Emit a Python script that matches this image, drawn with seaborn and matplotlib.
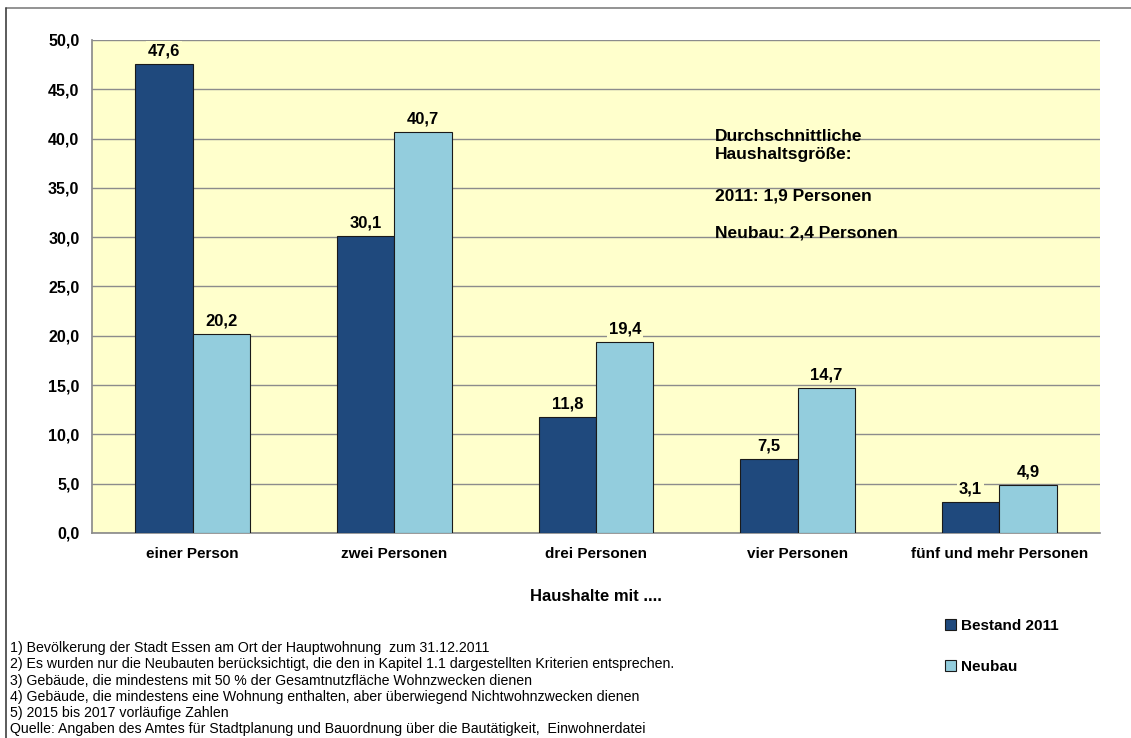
"""Haushaltsgröße: Bestand 2011 vs. Neubau (Balkendiagramm)."""

import matplotlib

matplotlib.use("Agg")
import matplotlib.pyplot as plt
import matplotlib.ticker as mticker
import pandas as pd
import seaborn as sns
from matplotlib.lines import Line2D
from matplotlib.patches import Patch

categories = ["einer Person", "zwei Personen", "drei Personen", "vier Personen", "fünf und mehr Personen"]
bestand_2011 = [47.6, 30.1, 11.8, 7.5, 3.1]
neubau = [20.2, 40.7, 19.4, 14.7, 4.9]
series_names = ["Bestand 2011", "Neubau"]
y_ticks = [0, 5, 10, 15, 20, 25, 30, 35, 40, 45, 50]

footnotes = [
    "1) Bevölkerung der Stadt Essen am Ort der Hauptwohnung  zum 31.12.2011",
    "2) Es wurden nur die Neubauten berücksichtigt, die den in Kapitel 1.1 dargestellten Kriterien entsprechen.",
    "3) Gebäude, die mindestens mit 50 % der Gesamtnutzfläche Wohnzwecken dienen",
    "4) Gebäude, die mindestens eine Wohnung enthalten, aber überwiegend Nichtwohnzwecken dienen",
    "5) 2015 bis 2017 vorläufige Zahlen",
    "Quelle: Angaben des Amtes für Stadtplanung und Bauordnung über die Bautätigkeit,  Einwohnerdatei",
]

DARK = "#1F497D"
LIGHT = "#93CDDD"
BG = "#FFFFCC"

sns.set_theme(style="white")
plt.rcParams["font.family"] = ["Liberation Sans", "DejaVu Sans"]
plt.rcParams["text.color"] = "black"
plt.rcParams["xtick.color"] = "black"
plt.rcParams["ytick.color"] = "black"
plt.rcParams["axes.labelcolor"] = "black"

df = pd.DataFrame({
    "Haushalt": categories * 2,
    "Anteil": bestand_2011 + neubau,
    "Serie": [series_names[0]] * 5 + [series_names[1]] * 5,
})

fig = plt.figure(figsize=(11.31, 7.38), dpi=100)
ax = fig.add_axes([0.0813, 0.2778, 0.8913, 0.668])
ax.set_facecolor(BG)

sns.barplot(
    data=df, x="Haushalt", y="Anteil", hue="Serie",
    palette=[DARK, LIGHT], saturation=1, width=0.57,
    edgecolor="#1a1a1a", linewidth=0.8,
    legend=False, ax=ax, zorder=3,
)

for container in ax.containers:
    ax.bar_label(
        container, labels=[f"{v:.1f}".replace(".", ",") for v in container.datavalues],
        padding=4, fontsize=12, fontweight="bold", color="black",
        bbox=dict(facecolor=BG, edgecolor="none", pad=1.5),
    )

ax.set_ylim(0, 50)
ax.set_xlim(-0.5, 4.5)
ax.set_yticks(y_ticks)
ax.yaxis.set_major_formatter(mticker.FuncFormatter(lambda v, _: f"{v:.1f}".replace(".", ",")))
ax.yaxis.grid(True, color="#8C8C8C", linewidth=1.0, zorder=0)
ax.set_axisbelow(True)
for side in ["top", "right"]:
    ax.spines[side].set_visible(False)
ax.spines["left"].set_color("#8C8C8C")
ax.spines["bottom"].set_color("#8C8C8C")

# Trennstriche zwischen den Kategorien
ax.set_xticks(range(len(categories)))
ax.set_xticklabels(categories, fontsize=11, fontweight="bold")
ax.tick_params(axis="x", length=0, pad=10)
ax.set_xticks([i - 0.5 for i in range(len(categories) + 1)], minor=True)
ax.tick_params(axis="x", which="minor", length=6, color="#8C8C8C", direction="out")
ax.tick_params(axis="y", length=5, color="#8C8C8C", direction="out", labelsize=11.5, pad=4)
for lbl in ax.get_yticklabels():
    lbl.set_fontweight("bold")

ax.set_ylabel("")
ax.set_xlabel("Haushalte mit ....", fontsize=12, fontweight="bold", labelpad=20)

info_lines = [
    ("Durchschnittliche", 0.805),
    ("Haushaltsgröße:", 0.767),
    ("2011: 1,9 Personen", 0.684),
    ("Neubau: 2,4 Personen", 0.609),
]
for txt, ypos in info_lines:
    ax.text(0.618, ypos, txt, transform=ax.transAxes,
            fontsize=12.5, fontweight="bold", va="center", zorder=5)

handles = [Patch(facecolor=DARK, edgecolor="#1a1a1a", linewidth=0.8),
           Patch(facecolor=LIGHT, edgecolor="#1a1a1a", linewidth=0.8)]
fig.legend(handles, series_names, loc="upper left", bbox_to_anchor=(0.8305, 0.170),
           frameon=False, prop={"size": 11, "weight": "bold"}, handlelength=0.7,
           handleheight=0.7, handletextpad=0.3, labelspacing=1.8, borderaxespad=0)

for i, line in enumerate(footnotes):
    fig.text(0.009, 1 - (648 + i * 16.3) / 738, line, fontsize=10.2, va="center")

# Rahmen oben und links
fig.add_artist(Line2D([0.0053, 1.0], [1 - 8 / 738, 1 - 8 / 738], transform=fig.transFigure,
                      color="#808080", linewidth=1.2))
fig.add_artist(Line2D([0.0053, 0.0053], [0, 1 - 8 / 738], transform=fig.transFigure,
                      color="#404040", linewidth=1.2))

fig.savefig("out.png", dpi=100)
